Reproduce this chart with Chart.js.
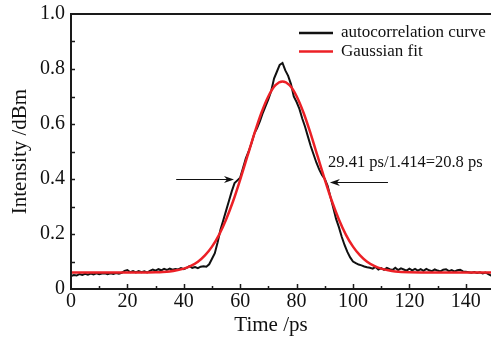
<!DOCTYPE html>
<html>
<head>
<meta charset="utf-8">
<script src="https://cdn.jsdelivr.net/npm/chart.js@4.4.1/dist/chart.umd.min.js"></script>
<style>
    html, body { margin: 0; padding: 0; background: #fff; overflow: hidden; }
    #wrap { position: absolute; left: 0; top: 0; width: 495px; height: 338px; }
</style>
</head>
<body>
<div id="wrap"><canvas id="pulseChart" width="495" height="338"></canvas></div>
<script>
// Autocorrelation trace (Time in ps, intensity)
const traceTime = [];
for (let t = 0; t <= 150; t++) traceTime.push(t);
const traceValues = [
    0.047, 0.051, 0.049, 0.054, 0.051, 0.055, 0.052, 0.056, 0.053, 0.057,
    0.054, 0.056, 0.057, 0.054, 0.057, 0.055, 0.058, 0.056, 0.059, 0.066,
    0.069, 0.061, 0.065, 0.060, 0.065, 0.061, 0.064, 0.060, 0.066, 0.071,
    0.067, 0.072, 0.068, 0.073, 0.069, 0.074, 0.070, 0.073, 0.071, 0.076,
    0.072, 0.077, 0.083, 0.077, 0.080, 0.076, 0.081, 0.083, 0.081, 0.090,
    0.110, 0.130, 0.170, 0.215, 0.250, 0.285, 0.320, 0.355, 0.385, 0.395,
    0.405, 0.440, 0.475, 0.500, 0.530, 0.565, 0.585, 0.610, 0.640, 0.665,
    0.690, 0.720, 0.765, 0.790, 0.815, 0.822, 0.795, 0.775, 0.745, 0.700,
    0.680, 0.655, 0.620, 0.590, 0.555, 0.520, 0.490, 0.460, 0.435, 0.415,
    0.400, 0.375, 0.335, 0.295, 0.255, 0.225, 0.190, 0.160, 0.135, 0.115,
    0.100, 0.094, 0.089, 0.086, 0.082, 0.079, 0.077, 0.074, 0.080, 0.071,
    0.076, 0.070, 0.077, 0.072, 0.069, 0.077, 0.069, 0.075, 0.071, 0.067,
    0.074, 0.068, 0.073, 0.067, 0.072, 0.066, 0.073, 0.068, 0.065, 0.071,
    0.067, 0.064, 0.070, 0.072, 0.065, 0.069, 0.063, 0.068, 0.070, 0.064,
    0.063, 0.061, 0.059, 0.062, 0.058, 0.061, 0.057, 0.060, 0.054, 0.049,
    0.042
];

// Gaussian fit curve
const fitTime = [0, 10, 20, 25, 30, 32.5, 35, 37.5, 40, 42.5, 45, 47.5, 50, 52.5, 55, 57.5, 60, 62.5, 65, 67.5, 70, 72.5,
    75, 77.5, 80, 82.5, 85, 87.5, 90, 92.5, 95, 97.5, 100, 102.5, 105, 107.5, 110, 112.5, 115, 120, 130, 140, 150];
const fitValues = [0.060, 0.060, 0.060, 0.060, 0.061, 0.062, 0.064, 0.068, 0.074, 0.084, 0.099, 0.122, 0.154, 0.197, 0.253,
    0.320, 0.398, 0.481, 0.564, 0.640, 0.701, 0.741, 0.755, 0.741, 0.701, 0.640, 0.564, 0.481, 0.398, 0.320, 0.253, 0.197,
    0.154, 0.122, 0.099, 0.084, 0.074, 0.068, 0.064, 0.061, 0.060, 0.060, 0.060];

// tick labels
const xTickValues = [0, 20, 40, 60, 80, 100, 120, 140];
const yTickLabels = ['0', '0.2', '0.4', '0.6', '0.8', '1.0'];

// FWHM markers: [fromTime, toTime, intensity]
const leftArrow = [37.3, 57.8, 0.400];
const rightArrow = [112.4, 91.8, 0.389];
const fwhmLabel = '29.41 ps/1.414=20.8 ps';
const legendNames = ['autocorrelation curve', 'Gaussian fit'];

const SERIF = '"Liberation Serif", "Times New Roman", serif';
const RED = 'rgb(236, 32, 38)';
const BLACK = '#111';

function toPoints(xs, ys) {
    return xs.map((x, i) => ({ x: x, y: ys[i] }));
}

function drawArrow(ctx, x0, x1, y) {
    const dir = x1 > x0 ? 1 : -1;
    ctx.beginPath();
    ctx.moveTo(x0, y);
    ctx.lineTo(x1 - dir * 6, y);
    ctx.stroke();
    ctx.beginPath();
    ctx.moveTo(x1, y);
    ctx.lineTo(x1 - dir * 10, y - 3.5);
    ctx.lineTo(x1 - dir * 7, y);
    ctx.lineTo(x1 - dir * 10, y + 3.5);
    ctx.closePath();
    ctx.fill();
}

// frame, inward ticks, titles, legend and annotation
const decorPlugin = {
    id: 'decor',
    afterDraw(chart) {
        const ctx = chart.ctx;
        const area = chart.chartArea;
        const xs = chart.scales.x;
        const ys = chart.scales.y;
        ctx.save();

        ctx.strokeStyle = '#1a1a1a';
        ctx.lineWidth = 2;
        ctx.beginPath();
        ctx.moveTo(area.left, area.top);
        ctx.lineTo(area.left, area.bottom);
        ctx.lineTo(area.right + 2, area.bottom);
        ctx.moveTo(area.left - 1, area.top);
        ctx.lineTo(area.right + 2, area.top);
        ctx.stroke();

        ctx.lineWidth = 1.5;
        ctx.beginPath();
        for (let v = 10; v < 150; v += 10) {
            const px = Math.round(xs.getPixelForValue(v)) + 0.5;
            const len = v % 20 === 0 ? 5 : 3;
            ctx.moveTo(px, area.bottom);
            ctx.lineTo(px, area.bottom - len);
        }
        for (let k = 1; k < 10; k++) {
            const py = Math.round(ys.getPixelForValue(k / 10)) + 0.5;
            ctx.moveTo(area.left, py);
            ctx.lineTo(area.left + 4, py);
        }
        ctx.stroke();

        // axis titles
        ctx.fillStyle = '#111';
        ctx.font = '21px ' + SERIF;
        ctx.textAlign = 'center';
        ctx.textBaseline = 'middle';
        ctx.fillText('Time /ps', 271, 325);
        ctx.save();
        ctx.translate(20, (area.top + area.bottom) / 2);
        ctx.rotate(-Math.PI / 2);
        ctx.fillText('Intensity /dBm', 0, 0);
        ctx.restore();

        // legend
        ctx.lineWidth = 2.5;
        ctx.font = '17px ' + SERIF;
        ctx.textAlign = 'left';
        const legendColors = [BLACK, RED];
        legendNames.forEach((name, i) => {
            const y = 33 + i * 18.5;
            ctx.strokeStyle = legendColors[i];
            ctx.beginPath();
            ctx.moveTo(299, y);
            ctx.lineTo(333, y);
            ctx.stroke();
            ctx.fillStyle = '#111';
            ctx.fillText(name, 341, y);
        });

        // FWHM arrows + label
        ctx.strokeStyle = '#111';
        ctx.fillStyle = '#111';
        ctx.lineWidth = 1.2;
        [leftArrow, rightArrow].forEach(a => {
            const y = Math.round(ys.getPixelForValue(a[2])) + 0.5;
            drawArrow(ctx, xs.getPixelForValue(a[0]), xs.getPixelForValue(a[1]), y);
        });
        ctx.font = '16.5px ' + SERIF;
        ctx.fillText(fwhmLabel, 328, 163);

        ctx.restore();
    }
};

const pulseCtx = document.getElementById('pulseChart');
const pulseChart = new Chart(pulseCtx, {
    type: 'scatter',
    data: {
        datasets: [{
            label: 'Gaussian fit',
            data: toPoints(fitTime, fitValues),
            showLine: true,
            borderColor: RED,
            borderWidth: 2.5,
            pointRadius: 0,
            cubicInterpolationMode: 'monotone'
        }, {
            label: 'autocorrelation curve',
            data: toPoints(traceTime, traceValues),
            showLine: true,
            borderColor: BLACK,
            borderWidth: 2,
            pointRadius: 0,
            tension: 0
        }]
    },
    options: {
        responsive: false,
        animation: false,
        layout: { padding: { top: 14, right: 1, left: 0, bottom: 0 } },
        plugins: {
            legend: { display: false },
            tooltip: { enabled: false }
        },
        scales: {
            x: {
                type: 'linear',
                min: 0,
                max: 150,
                afterBuildTicks: function (scale) {
                    scale.ticks = xTickValues.map(v => ({ value: v }));
                },
                ticks: {
                    color: '#111',
                    padding: 1,
                    maxRotation: 0,
                    font: { family: SERIF, size: 20 }
                },
                grid: { display: false, drawTicks: false },
                border: { display: false },
                afterFit: function (scale) {
                    scale.height = 49;
                    scale.paddingLeft = 0;
                    scale.paddingRight = 0;
                }
            },
            y: {
                min: 0,
                max: 1,
                ticks: {
                    stepSize: 0.2,
                    color: '#111',
                    padding: 6,
                    font: { family: SERIF, size: 20 },
                    callback: function (value) {
                        return yTickLabels[Math.round(value * 5)];
                    }
                },
                grid: { display: false, drawTicks: false },
                border: { display: false },
                afterFit: function (scale) {
                    scale.width = 71;
                    scale.paddingTop = 0;
                    scale.paddingBottom = 0;
                }
            }
        }
    },
    plugins: [decorPlugin]
});
</script>
</body>
</html>
